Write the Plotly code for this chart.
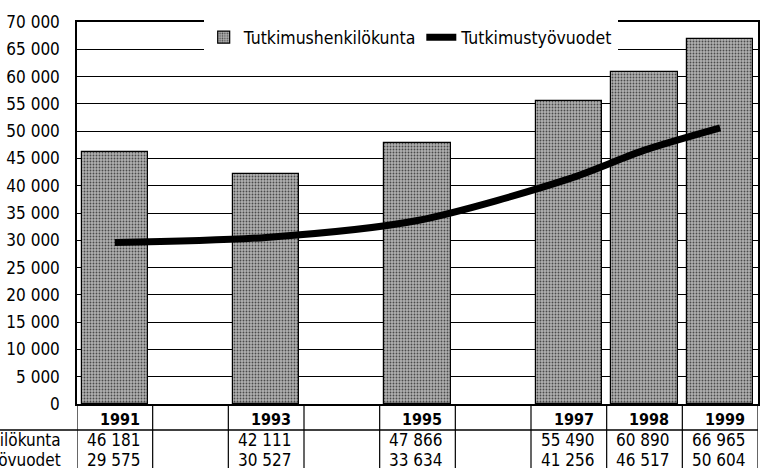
import plotly.graph_objects as go

# Years shown in the table / bars
YEARS = [1991, 1993, 1995, 1997, 1998, 1999]
# Research staff (bars)
STAFF = [46181, 42111, 47866, 55490, 60890, 66965]
# Person-years of research work (line)
WORK_YEARS = [29575, 30527, 33634, 41256, 46517, 50604]
ROW_LABELS = ["Tutkimushenkilökunta", "Tutkimustyövuodet"]
ALL_YEARS = list(range(1991, 2000))

FONT = "DejaVu Sans Condensed, Liberation Sans Narrow, Arial Narrow, sans-serif"

W, H = 765, 468
M_L, M_R, M_T, M_B = 77, 7, 22, 64
PLOT_H = H - M_T - M_B


def py(px):
    """pixel offset below plot bottom -> paper y"""
    return -px / PLOT_H


def fmt(v):
    return f"{v:,}".replace(",", " ")


fig = go.Figure()
fig.add_trace(
    go.Bar(
        x=YEARS,
        y=STAFF,
        name=ROW_LABELS[0],
        width=0.88,
        marker={
            "color": "#a8a8a8",
            "line": {"color": "black", "width": 1.2},
            "pattern": {
                "shape": ".",
                "fgcolor": "#4a4a4a",
                "bgcolor": "#b0b0b0",
                "size": 3,
                "solidity": 0.3,
                "fillmode": "replace",
            },
        },
    )
)
fig.add_trace(
    go.Scatter(
        x=YEARS,
        y=WORK_YEARS,
        name=ROW_LABELS[1],
        mode="lines",
        line={"color": "black", "width": 7, "shape": "spline", "smoothing": 0.8},
    )
)

shapes = []
# table vertical lines
for yr in ALL_YEARS + [ALL_YEARS[-1] + 1]:
    shapes.append(
        dict(type="line", xref="x", yref="paper", x0=yr - 0.5, x1=yr - 0.5,
             y0=0, y1=py(70), line={"color": "black", "width": 1.2})
    )
# header separator
shapes.append(
    dict(type="line", xref="paper", yref="paper", x0=-M_L / (W - M_L - M_R), x1=1,
         y0=py(26), y1=py(26), line={"color": "black", "width": 1.5})
)

annotations = []
for yr in YEARS:
    annotations.append(
        dict(x=yr + 0.5, y=py(15), xref="x", yref="paper", text=f"<b>{yr}</b>",
             showarrow=False, xanchor="right", yanchor="middle", xshift=-11,
             font={"size": 16, "color": "black", "family": FONT})
    )
for row, (vals, ypx) in enumerate([(STAFF, 36), (WORK_YEARS, 56)]):
    for yr, v in zip(YEARS, vals):
        annotations.append(
            dict(x=yr + 0.5, y=py(ypx), xref="x", yref="paper", text=fmt(v),
                 showarrow=False, xanchor="right", yanchor="middle", xshift=-10,
                 font={"size": 17, "color": "black", "family": FONT})
        )
    annotations.append(
        dict(x=0, y=py(ypx), xref="paper", yref="paper", text=ROW_LABELS[row],
             showarrow=False, xanchor="right", yanchor="middle", xshift=-14,
             font={"size": 17, "color": "black", "family": FONT})
    )

fig.update_layout(
    width=W,
    height=H,
    margin={"l": M_L, "r": M_R, "t": M_T, "b": M_B},
    paper_bgcolor="white",
    plot_bgcolor="white",
    font={"family": FONT, "size": 17, "color": "black"},
    separators=", ",
    showlegend=True,
    legend={
        "orientation": "h",
        "x": 0.49,
        "y": 0.96,
        "xanchor": "center",
        "yanchor": "middle",
        "bgcolor": "white",
        "font": {"size": 17.5, "family": FONT},
        "itemwidth": 30,
        "tracegroupgap": 0,
    },
    shapes=shapes,
    annotations=annotations,
    bargap=0,
)
fig.update_xaxes(
    range=[1990.5, 1999.5],
    showticklabels=False,
    showgrid=False,
    zeroline=False,
    showline=True,
    linecolor="black",
    linewidth=1.5,
    mirror=True,
    ticks="",
    automargin=False,
)
fig.update_yaxes(
    range=[0, 70000],
    dtick=5000,
    tickformat=",d",
    showgrid=True,
    gridcolor="black",
    gridwidth=1,
    zeroline=False,
    showline=True,
    linecolor="black",
    linewidth=1.5,
    mirror=True,
    ticks="",
    ticklabelstandoff=12,
    tickfont={"size": 17, "family": FONT},
    automargin=False,
)

# the page's default body margin would shift the figure by 8px
fig.write_html(
    "out.html",
    config={"displayModeBar": False},
    post_script="document.body.style.margin = '0';",
)
